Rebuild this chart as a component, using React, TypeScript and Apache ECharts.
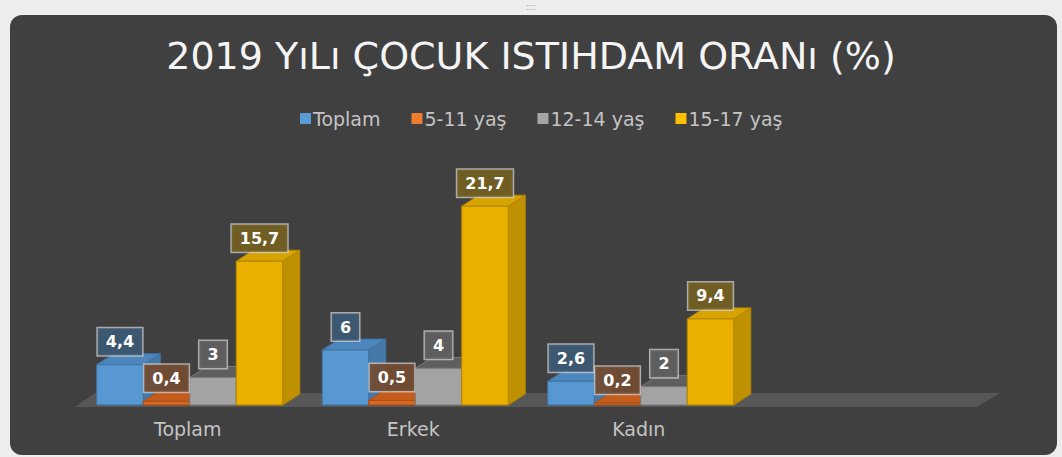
import React, { useEffect, useRef } from "react";
import * as echarts from "echarts";

const categories = ["Toplam", "Erkek", "Kadın", ""];
const seriesNames = ["Toplam", "5-11 yaş", "12-14 yaş", "15-17 yaş"];
const toplamValues = [4.4, 6, 2.6];
const age5to11Values = [0.4, 0.5, 0.2];
const age12to14Values = [3, 4, 2];
const age15to17Values = [15.7, 21.7, 9.4];
const allValues = [toplamValues, age5to11Values, age12to14Values, age15to17Values];

const FRONT = ["#5898d2", "#d9681f", "#a3a3a3", "#e9b000"];
const SIDE = ["#4679a8", "#b0541a", "#7c7c7c", "#bf9000"];
const TOP = ["#4d86bd", "#c45d1c", "#5e5e5e", "#d6a300"];
const EDGE = ["#3f73a3", "#a84f18", "#7a7a7a", "#b38600"];
const LEGEND = ["#5b9bd5", "#ed7d31", "#a5a5a5", "#ffc000"];
const LABEL_BG = ["rgba(60,88,115,0.95)", "rgba(115,76,52,0.95)", "rgba(96,96,96,0.95)", "rgba(115,95,35,0.95)"];

const DX = 17;
const DY = -11;
const FONT = "'DejaVu Sans', Verdana, sans-serif";

function geom(api: any, sIdx: number, cat: number, v: number) {
  const base = api.coord([cat, 0]);
  const top = api.coord([cat, v]);
  const bw = api.size([1, 0])[0];
  const barW = (bw * 0.825) / 4;
  const x0 = base[0] - 2 * barW + 2 + sIdx * barW;
  return { x0, x1: x0 + barW, yb: base[1], yt: top[1], barW };
}

function barRenderer(sIdx: number) {
  return (params: any, api: any) => {
    const g = geom(api, sIdx, api.value(0), api.value(1));
    const { x0, x1, yb, yt } = g;
    return {
      type: "group",
      children: [
        {
          type: "polygon",
          shape: { points: [[x1, yt], [x1 + DX, yt + DY], [x1 + DX, yb + DY], [x1, yb]] },
          style: { fill: SIDE[sIdx], stroke: EDGE[sIdx], lineWidth: 1 },
        },
        {
          type: "polygon",
          shape: { points: [[x0, yt], [x1, yt], [x1 + DX, yt + DY], [x0 + DX, yt + DY]] },
          style: { fill: TOP[sIdx], stroke: EDGE[sIdx], lineWidth: 1 },
        },
        {
          type: "rect",
          shape: { x: x0, y: yt, width: x1 - x0, height: yb - yt },
          style: { fill: FRONT[sIdx], stroke: EDGE[sIdx], lineWidth: 1 },
        },
      ],
    };
  };
}

export default function App() {
  const ref = useRef<HTMLDivElement>(null);
  useEffect(() => {
    if (!ref.current) return;
    const chart = echarts.init(ref.current, undefined, { renderer: "svg" });

    const labelData: any[] = [];
    allValues.forEach((arr, s) => arr.forEach((v, c) => labelData.push([c, v, s])));

    const barSeries = allValues.map((arr, s) => ({
      name: seriesNames[s],
      type: "custom",
      z: 3,
      itemStyle: { color: LEGEND[s] },
      renderItem: barRenderer(s),
      data: arr.map((v, c) => [c, v]),
    }));

    chart.setOption({
      animation: false,
      backgroundColor: "transparent",
      title: {
        text: "2019 YıLı ÇOCUK ISTIHDAM ORANı (%)",
        left: "center",
        top: 32,
        textStyle: { color: "#f4f4f4", fontSize: 38, fontWeight: "normal", fontFamily: FONT },
      },
      legend: {
        data: seriesNames,
        left: 295,
        top: 104,
        itemWidth: 11,
        itemHeight: 11,
        itemGap: 31,
        icon: "rect",
        textStyle: { color: "#c4c4c4", fontSize: 19, fontFamily: FONT, padding: [0, 0, 0, -3] },
      },
      graphic: [
        { type: "text", left: 526, top: 2, style: { text: "::::", fill: "#9a9a9a", font: "9px sans-serif" } },
      ],
      grid: { left: 75, right: 85, top: 176, bottom: 52 },
      xAxis: {
        type: "category",
        data: categories,
        axisLine: { show: false },
        axisTick: { show: false },
        axisLabel: { color: "#c4c4c4", fontSize: 19, fontFamily: FONT, margin: 14 },
      },
      yAxis: { type: "value", min: 0, max: 25, show: false },
      series: [
        {
          name: "floor",
          type: "custom",
          z: 1,
          silent: true,
          data: [[0, 0]],
          renderItem: (params: any, api: any) => {
            const cs = params.coordSys;
            const fy = cs.y + cs.height + 2;
            return {
              type: "polygon",
              shape: { points: [[cs.x, fy], [cs.x + cs.width, fy], [cs.x + cs.width + 23, fy - 14], [cs.x + 20, fy - 14]] },
              style: { fill: "#575757" },
            };
          },
        },
        ...barSeries,
        {
          name: "labels",
          type: "custom",
          z: 10,
          silent: true,
          data: labelData,
          renderItem: (params: any, api: any) => {
            const s = api.value(2);
            const g = geom(api, s, api.value(0), api.value(1));
            return {
              type: "text",
              x: g.x0 + g.barW / 2,
              y: g.yt - 23,
              style: {
                text: String(api.value(1)).replace(".", ","),
                fill: "#ffffff",
                font: `bold 16px ${FONT}`,
                align: "center",
                verticalAlign: "middle",
                backgroundColor: LABEL_BG[s],
                borderColor: "rgba(205,205,205,0.75)",
                borderWidth: 1.5,
                padding: [6, 8, 5, 8],
              },
            };
          },
        },
      ],
    });
    return () => chart.dispose();
  }, []);

  return (
    <div style={{ position: "fixed", left: 0, top: 0, width: 1062, height: 457, background: "#ededed" }}>
      <div
        style={{
          position: "absolute",
          left: 10,
          top: 15,
          width: 1047,
          height: 440,
          background: "#404040",
          borderRadius: 12,
        }}
      />
      <div ref={ref} style={{ position: "absolute", left: 0, top: 0, width: 1062, height: 457 }} />
    </div>
  );
}
